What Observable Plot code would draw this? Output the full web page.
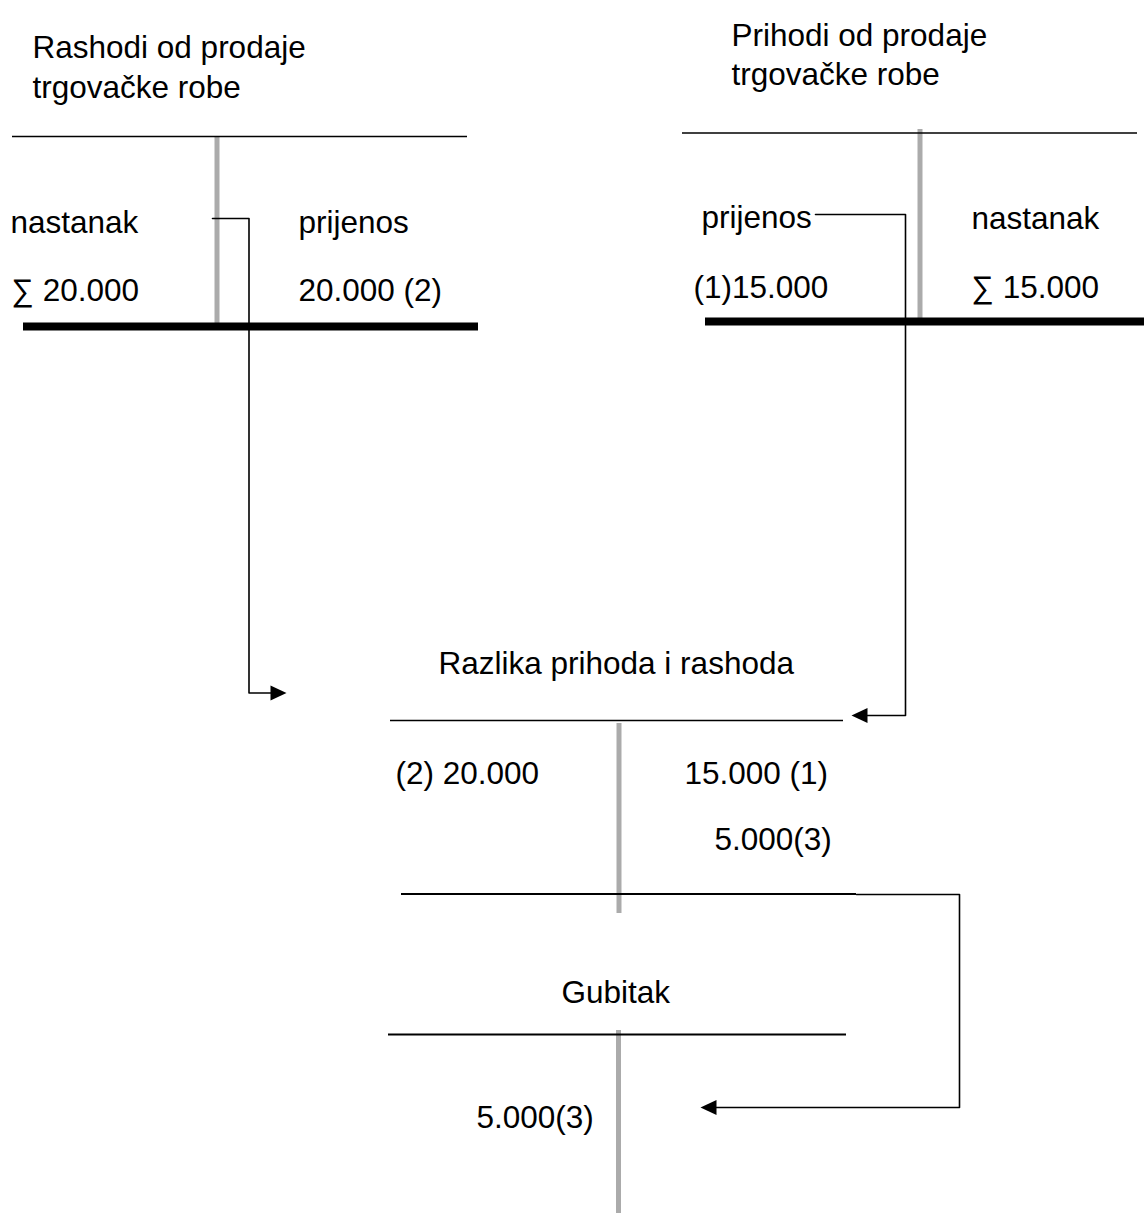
<!DOCTYPE html>
<html>
<head>
<meta charset="utf-8">
<script src="https://cdn.jsdelivr.net/npm/d3@7"></script>
<script src="https://cdn.jsdelivr.net/npm/@observablehq/plot@0.6"></script>
<style>
  html, body { margin: 0; padding: 0; background: #fff; }
  #chart svg { display: block; }
</style>
</head>
<body>
<div id="chart"></div>
<script>
// ---- content (text only) ----
const accountTitles = [
  ["Rashodi od prodaje", "trgovačke robe"],
  ["Prihodi od prodaje", "trgovačke robe"],
  ["Razlika prihoda i rashoda"],
  ["Gubitak"]
];
const sideLabels = ["nastanak", "prijenos", "prijenos", "nastanak"];
const amounts = ["∑ 20.000", "20.000 (2)", "(1)15.000", "∑ 15.000", "(2) 20.000", "15.000 (1)", "5.000(3)", "5.000(3)"];

// ---- layout (diagram positions in pixels) ----
const titlePos = [
  [[32, 47], [32, 87]],
  [[731, 35], [731, 74]],
  [[438, 663]],
  [[561, 992]]
];
const sideLabelPos = [[10, 222], [298, 222], [701, 217], [971, 218]];
const amountPos = [[11, 290], [298, 290], [693, 287], [971, 287], [395, 773], [684, 773], [714, 839], [476, 1117]];

const thinRules = [
  {x1: 12, x2: 467, y: 136, w: 1.5},
  {x1: 682, x2: 1137, y: 132.5, w: 1.5},
  {x1: 390, x2: 843, y: 720, w: 1.5},
  {x1: 401, x2: 856, y: 893.5, w: 2},
  {x1: 388, x2: 846, y: 1034, w: 2}
];
const thickRules = [
  {x1: 23, x2: 478, y: 326},
  {x1: 705, x2: 1144, y: 321}
];
const grayRules = [
  {x: 216.5, y1: 136, y2: 323},
  {x: 919.5, y1: 129, y2: 318},
  {x: 618.5, y1: 723, y2: 913},
  {x: 618, y1: 1030, y2: 1213}
];
const connectors = [
  {id: "c1", pts: [[212, 218], [248.5, 218], [248.5, 692.5], [271, 692.5]], head: [278, 692.5, 90]},
  {id: "c2", pts: [[815, 214], [905, 214], [905, 715], [866, 715]], head: [859, 715, -90]},
  {id: "c3", pts: [[856, 894], [959, 894], [959, 1107], [715, 1107]], head: [708, 1107, -90]}
];

// ---- tables built from the arrays ----
const textRows = [];
accountTitles.forEach((lines, i) => lines.forEach((t, j) => textRows.push({t, x: titlePos[i][j][0], y: titlePos[i][j][1]})));
sideLabels.forEach((t, i) => textRows.push({t, x: sideLabelPos[i][0], y: sideLabelPos[i][1]}));
amounts.forEach((t, i) => textRows.push({t, x: amountPos[i][0], y: amountPos[i][1]}));

const connRows = connectors.flatMap(c => c.pts.map(([x, y]) => ({id: c.id, x, y})));
const headRows = connectors.map(c => ({x: c.head[0], y: c.head[1], rot: c.head[2]}));

const arrowHead = {
  draw(context, size) {
    const r = Math.sqrt(size / Math.PI);
    context.moveTo(0, -r);
    context.lineTo(0.95 * r, r);
    context.lineTo(-0.95 * r, r);
    context.closePath();
  }
};

const FONT = "'Liberation Sans', Arial, Helvetica, sans-serif";

const chart = Plot.plot({
  width: 1144,
  height: 1215,
  margin: 0,
  style: {background: "#fff"},
  x: {type: "linear", domain: [0, 1144], range: [0, 1144], axis: null},
  y: {type: "linear", domain: [0, 1215], range: [0, 1215], axis: null},
  marks: [
    Plot.ruleX(grayRules, {x: "x", y1: "y1", y2: "y2", stroke: "#ababab", strokeWidth: 5}),
    ...thinRules.map(r => Plot.ruleY([r], {y: "y", x1: "x1", x2: "x2", stroke: "#000", strokeWidth: r.w})),
    Plot.ruleY(thickRules, {y: "y", x1: "x1", x2: "x2", stroke: "#000", strokeWidth: 8}),
    Plot.line(connRows, {x: "x", y: "y", z: "id", stroke: "#000", strokeWidth: 1.6, curve: "linear"}),
    Plot.dot(headRows, {x: "x", y: "y", r: 8, symbol: arrowHead, rotate: "rot", fill: "#000", stroke: "none"}),
    Plot.text(textRows, {x: "x", y: "y", text: "t", textAnchor: "start", lineAnchor: "middle",
      fontSize: 31.5, fontFamily: FONT, fill: "#000"})
  ]
});
document.getElementById("chart").appendChild(chart);
</script>
</body>
</html>
